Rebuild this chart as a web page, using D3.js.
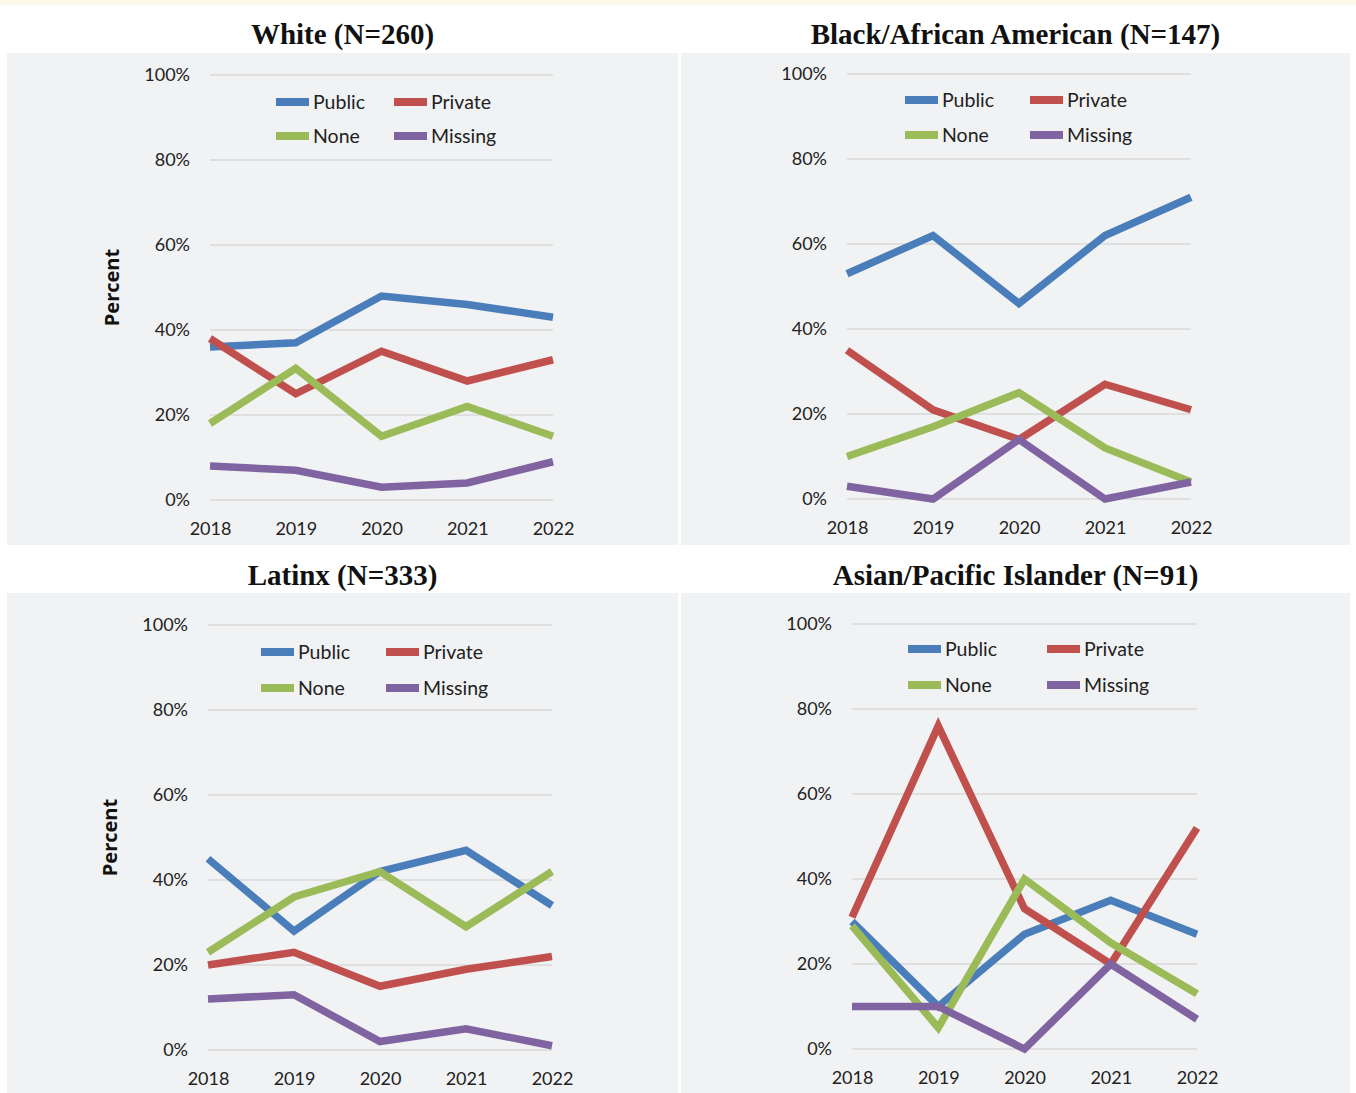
<!DOCTYPE html>
<html>
<head>
<meta charset="utf-8">
<script src="https://cdn.jsdelivr.net/npm/d3@7"></script>
<style>
  body { margin: 0; background: #fff; }
  svg { display: block; }
</style>
</head>
<body>
<div id="chart"></div>
<script>
// data
const years = [2018, 2019, 2020, 2021, 2022]
const seriesNames = ['Public', 'Private', 'None', 'Missing']
const yTicks = [0, 20, 40, 60, 80, 100]

const titles = ['White (N=260)', 'Black/African American (N=147)', 'Latinx (N=333)', 'Asian/Pacific Islander (N=91)']

// each: Public, Private, None, Missing
const whiteValues = [
  [36, 37, 48, 46, 43],
  [38, 25, 35, 28, 33],
  [18, 31, 15, 22, 15],
  [8, 7, 3, 4, 9]
]
const blackValues = [
  [53, 62, 46, 62, 71],
  [35, 21, 14, 27, 21],
  [10, 17, 25, 12, 4],
  [3, 0, 14, 0, 4]
]
const latinxValues = [
  [45, 28, 42, 47, 34],
  [20, 23, 15, 19, 22],
  [23, 36, 42, 29, 42],
  [12, 13, 2, 5, 1]
]
const asianValues = [
  [30, 10, 27, 35, 27],
  [31, 76, 33, 20, 52],
  [29, 5, 40, 25, 13],
  [10, 10, 0, 20, 7]
]

const colors = ['#4a7ebb', '#c0504d', '#9bbb59', '#8064a2']

// layout of the four panels
const panels = [
  { values: whiteValues, x0: 7, x1: 678, top: 5, plotTop: 53, bottom: 545,
    left: 210, right: 553, y100: 75, y0: 500, legX: [276, 394], legY: [102, 136], yLabel: true },
  { values: blackValues, x0: 681, x1: 1350, top: 5, plotTop: 53, bottom: 545,
    left: 847, right: 1191, y100: 74, y0: 499, legX: [905, 1030], legY: [100, 135], yLabel: false },
  { values: latinxValues, x0: 7, x1: 678, top: 546, plotTop: 593, bottom: 1093,
    left: 208, right: 552, y100: 625, y0: 1050, legX: [261, 386], legY: [652, 688], yLabel: true },
  { values: asianValues, x0: 681, x1: 1350, top: 546, plotTop: 593, bottom: 1093,
    left: 852, right: 1197, y100: 624, y0: 1049, legX: [908, 1047], legY: [649, 685], yLabel: false }
]

const svg = d3.select('#chart').append('svg')
  .attr('width', 1356)
  .attr('height', 1093)

svg.append('rect')
  .attr('width', 1356).attr('height', 5)
  .attr('fill', '#fdf8ec')

panels.forEach((p, pi) => {
  const g = svg.append('g')

  g.append('rect')
    .attr('x', p.x0).attr('y', p.plotTop)
    .attr('width', p.x1 - p.x0).attr('height', p.bottom - p.plotTop)
    .attr('fill', '#f1f2f4')

  g.append('text')
    .attr('x', (p.x0 + p.x1) / 2)
    .attr('y', (p.top + p.plotTop) / 2 + 15)
    .attr('text-anchor', 'middle')
    .attr('font-family', 'Liberation Serif, serif')
    .attr('font-weight', 'bold')
    .attr('font-size', 29)
    .attr('fill', '#111')
    .text(titles[pi])

  const x = d3.scalePoint().domain(years).range([p.left, p.right])
  const y = d3.scaleLinear().domain([0, 100]).range([p.y0, p.y100])

  // gridlines
  g.append('g')
    .selectAll('line')
    .data(yTicks)
    .enter().append('line')
    .attr('x1', p.left).attr('x2', p.right)
    .attr('y1', d => y(d)).attr('y2', d => y(d))
    .attr('stroke', '#d9d9d9')
    .attr('stroke-width', 1.3)

  const yAxis = g.append('g')
    .attr('transform', `translate(${p.left - 20},0)`)
    .call(d3.axisLeft(y).tickValues(yTicks).tickFormat(d => d + '%').tickSize(0).tickPadding(0))
  yAxis.select('.domain').remove()
  yAxis.selectAll('text')
    .attr('font-family', 'Lato, sans-serif')
    .attr('font-size', 18)
    .attr('fill', '#222')

  const xAxis = g.append('g')
    .attr('transform', `translate(0,${p.y0 + 22})`)
    .call(d3.axisBottom(x).tickSize(0).tickPadding(0))
  xAxis.select('.domain').remove()
  xAxis.selectAll('text')
    .attr('font-family', 'Lato, sans-serif')
    .attr('font-size', 18)
    .attr('fill', '#222')

  if (p.yLabel) {
    g.append('text')
      .attr('transform', `translate(${p.left - 91},${(p.y0 + p.y100) / 2}) rotate(-90)`)
      .attr('text-anchor', 'middle')
      .attr('font-family', 'Open Sans, sans-serif')
      .attr('font-weight', 'bold')
      .attr('font-size', 20)
      .attr('fill', '#111')
      .text('Percent')
  }

  const line = d3.line()
    .x((d, i) => x(years[i]))
    .y(d => y(d))

  g.append('g')
    .selectAll('path')
    .data(p.values)
    .enter().append('path')
    .attr('d', line)
    .attr('fill', 'none')
    .attr('stroke', (d, i) => colors[i])
    .attr('stroke-width', 7.5)
    .attr('stroke-linejoin', 'miter')

  // legend, 2 x 2
  const legend = g.append('g')
    .selectAll('g')
    .data(seriesNames)
    .enter().append('g')
    .attr('transform', (d, i) => `translate(${p.legX[i % 2]},${p.legY[Math.floor(i / 2)]})`)

  legend.append('rect')
    .attr('x', 0).attr('y', -4)
    .attr('width', 33).attr('height', 8)
    .attr('fill', (d, i) => colors[i])

  legend.append('text')
    .attr('x', 37)
    .attr('dy', '0.35em')
    .attr('font-family', 'Lato, sans-serif')
    .attr('font-size', 19.5)
    .attr('fill', '#222')
    .text(d => d)
})
</script>
</body>
</html>
